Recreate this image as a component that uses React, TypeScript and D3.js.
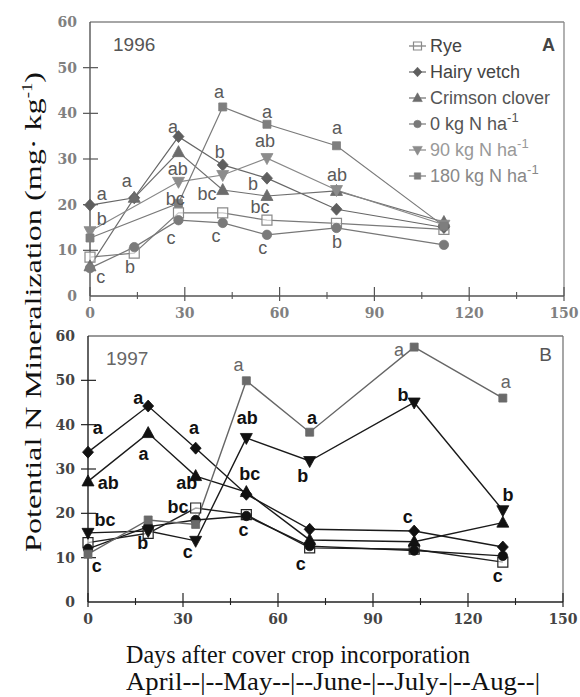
import React from "react";
import * as d3 from "d3";

// ---------- DATA ----------
const seriesKeys = ["rye", "vetch", "clover", "n0", "n90", "n180"];
const legendLabels = ["Rye", "Hairy vetch", "Crimson clover", "0 kg N ha", "90 kg N ha", "180 kg N ha"];
const legendSup = ["", "", "", "-1", "-1", "-1"];

// Panel A, 1996
const daysA = [0, 14, 28, 42, 56, 78, 112];
const ryeA = [8.5, 9.4, 18.2, 18.2, 16.6, 15.9, 14.6];
const vetchA = [19.9, 21.5, 34.9, 28.7, 25.8, 19.0, 15.0];
const cloverA = [6.5, 21.5, 31.5, 23.2, 21.9, 23.0, 16.2];
const n0A = [6.1, 10.7, 16.6, 16.0, 13.4, 14.9, 11.2];
const n90A = [14.2, null, 25.0, 26.5, 30.2, 23.2, 15.6];
const n180A = [12.7, null, 20.3, 41.4, 37.6, 32.9, 15.3];

// Panel B, 1997
const daysB = [0, 19, 34, 50, 70, 103, 131];
const ryeB = [13.4, 15.5, 21.2, 19.7, 12.2, 11.9, 9.0];
const vetchB = [33.8, 44.2, 34.7, 24.3, 16.4, 16.0, 12.4];
const cloverB = [27.2, 38.1, 28.4, 24.8, 14.0, 13.6, 17.9];
const n0B = [12.0, 17.0, 18.5, 19.4, 12.6, 11.6, 10.4];
const n90B = [15.6, 16.0, 13.8, 37.0, 31.8, 45.0, 20.7];
const n180B = [10.8, 18.5, 17.5, 49.9, 38.3, 57.5, 46.0];

// letter annotations: [series, day, value, text]
const lettersA: [string, number, number, string][] = [
  ["vetch", 3.7, 22.3, "a"], ["n90", 3.7, 16.9, "b"], ["n0", 3.4, 4.2, "c"],
  ["vetch", 11.6, 25.2, "a"], ["rye", 12.7, 6.4, "b"],
  ["vetch", 26.3, 37.0, "a"], ["clover", 27.8, 27.8, "ab"], ["n180", 27.0, 21.3, "bc"], ["n0", 25.6, 12.7, "c"],
  ["n180", 40.8, 44.7, "a"], ["vetch", 41.1, 31.7, "b"], ["clover", 37.0, 22.3, "bc"], ["n0", 39.9, 13.1, "c"],
  ["n180", 56.0, 40.3, "a"], ["n90", 55.4, 33.9, "ab"], ["vetch", 51.6, 24.5, "b"], ["clover", 53.8, 19.5, "bc"], ["n0", 54.7, 10.5, "c"],
  ["n180", 78.2, 36.8, "a"], ["n90", 78.2, 26.5, "ab"], ["n0", 78.2, 11.8, "b"],
];
const lettersB: [string, number, number, string][] = [
  ["vetch", 3.1, 39.3, "a"], ["clover", 6.4, 26.8, "ab"], ["n90", 5.4, 18.5, "bc"], ["n0", 2.8, 8.3, "c"],
  ["vetch", 15.9, 46.0, "a"], ["clover", 17.5, 33.4, "a"], ["rye", 17.3, 13.3, "b"],
  ["vetch", 33.5, 39.3, "a"], ["clover", 31.2, 26.8, "ab"], ["rye", 28.4, 21.4, "bc"], ["n90", 31.5, 11.3, "c"],
  ["n180", 47.5, 53.5, "a"], ["n90", 50.3, 41.5, "ab"], ["clover", 51.1, 28.9, "bc"], ["n0", 49.1, 16.2, "c"],
  ["vetch", 70.7, 41.5, "a"], ["n90", 67.8, 28.6, "b"], ["rye", 67.2, 8.6, "c"],
  ["n180", 98.2, 56.8, "a"], ["n90", 99.5, 46.7, "b"], ["vetch", 101.0, 19.2, "c"],
  ["n180", 131.9, 49.6, "a"], ["n90", 132.6, 24.1, "b"], ["rye", 129.4, 5.9, "c"],
];

const yTicks = [0, 10, 20, 30, 40, 50, 60];
const xTicks = [0, 30, 60, 90, 120, 150];
const xMinorTicks = [15, 45, 75, 105, 135];

// ---------- STYLE ----------
const shapes: Record<string, string> = {
  rye: "openSquare", vetch: "diamond", clover: "triUp", n0: "circle", n90: "triDown", n180: "square",
};

function markerPath(shape: string, k = 1): string {
  switch (shape) {
    case "openSquare": return `M${-5 * k},${-5 * k}H${5 * k}V${5 * k}H${-5 * k}Z`;
    case "square": return `M${-4 * k},${-4 * k}H${4 * k}V${4 * k}H${-4 * k}Z`;
    case "diamond": return `M0,${-6 * k}L${5.5 * k},0L0,${6 * k}L${-5.5 * k},0Z`;
    case "triUp": return `M0,${-6.5 * k}L${6 * k},${4.5 * k}L${-6 * k},${4.5 * k}Z`;
    case "triDown": return `M0,${6.5 * k}L${6 * k},${-4.5 * k}L${-6 * k},${-4.5 * k}Z`;
    default: return d3.symbol(d3.symbolCircle, Math.PI * 4.7 * 4.7 * k * k)() as string;
  }
}

const themeA = {
  color: { rye: "#8a8a8a", vetch: "#5e5e5e", clover: "#6c6c6c", n0: "#7a7a7a", n90: "#8c8c8c", n180: "#7e7e7e" } as Record<string, string>,
  line: { rye: "#7a7a7a", vetch: "#666", clover: "#6e6e6e", n0: "#777", n90: "#888", n180: "#7a7a7a" } as Record<string, string>,
  letter: (_s: string) => "#5a5a5a",
  letterWeight: (_s: string) => "normal",
  tickColor: "#808080", axisColor: "#555", frameColor: "#888", lineWidth: 1.2,
};
const themeB = {
  color: { rye: "#222", vetch: "#111", clover: "#111", n0: "#111", n90: "#111", n180: "#6a6a6a" } as Record<string, string>,
  line: { rye: "#222", vetch: "#1a1a1a", clover: "#1a1a1a", n0: "#1a1a1a", n90: "#1a1a1a", n180: "#666" } as Record<string, string>,
  letter: (s: string) => (s === "n180" ? "#666" : "#111"),
  letterWeight: (s: string) => (s === "n180" ? "normal" : "bold"),
  tickColor: "#444", axisColor: "#222", frameColor: "#777", lineWidth: 1.4,
};

type PanelProps = {
  days: number[];
  series: Record<string, (number | null)[]>;
  letters: [string, number, number, string][];
  xr: [number, number];
  yr: [number, number];
  theme: typeof themeA;
  tickFont: number;
};

function Panel({ days, series, letters, xr, yr, theme, tickFont }: PanelProps) {
  const x = d3.scaleLinear().domain([0, 150]).range(xr);
  const y = d3.scaleLinear().domain([0, 60]).range(yr);
  const line = d3.line<[number, number]>().x((d) => x(d[0])).y((d) => y(d[1]));
  const x0 = x(0), x1 = x(150), y0 = y(0), y1 = y(60);
  return (
    <g>
      {/* frame */}
      <line x1={x0} x2={x1} y1={y1} y2={y1} stroke={theme.frameColor} strokeWidth={1.3} />
      <line x1={x1} x2={x1} y1={y1} y2={y0} stroke={theme.frameColor} strokeWidth={1.3} />
      <line x1={x0} x2={x0} y1={y1} y2={y0} stroke={theme.axisColor} strokeWidth={1.4} />
      <line x1={x0} x2={x1} y1={y0} y2={y0} stroke={theme.axisColor} strokeWidth={1.4} />
      {yTicks.map((t) => (
        <g key={"yt" + t}>
          {t > 0 && t < 60 && <line x1={x0 - 7} x2={x0 + 8} y1={y(t)} y2={y(t)} stroke={theme.axisColor} strokeWidth={1.2} />}
          <text x={x0 - 13} y={y(t)} dy="0.36em" textAnchor="end" fontFamily="'DejaVu Serif', serif" fontWeight="bold"
            fontSize={tickFont} fill={theme.tickColor}>{t}</text>
        </g>
      ))}
      {xTicks.map((t) => (
        <g key={"xt" + t}>
          <line x1={x(t)} x2={x(t)} y1={y0 - 9} y2={y0 + 5} stroke={theme.axisColor} strokeWidth={1.2} />
          <text x={x(t)} y={y0 + 22} textAnchor="middle" fontFamily="'DejaVu Serif', serif" fontWeight="bold"
            fontSize={tickFont} fill={theme.tickColor}>{t}</text>
        </g>
      ))}
      {xMinorTicks.map((t) => (
        <line key={"xm" + t} x1={x(t)} x2={x(t)} y1={y0 - 4} y2={y0 + 3} stroke={theme.axisColor} strokeWidth={1.1} />
      ))}
      {/* lines */}
      {seriesKeys.map((k) => {
        const pts: [number, number][] = days
          .map((d, i) => [d, series[k][i]] as [number, number | null])
          .filter((p) => p[1] != null) as [number, number][];
        return <path key={"l" + k} d={line(pts) as string} fill="none" stroke={theme.line[k]} strokeWidth={theme.lineWidth} />;
      })}
      {/* markers */}
      {seriesKeys.map((k) =>
        days.map((d, i) => {
          const v = series[k][i];
          if (v == null) return null;
          const open = shapes[k] === "openSquare";
          return (
            <path key={"m" + k + i} d={markerPath(shapes[k])} transform={`translate(${x(d)},${y(v)})`}
              fill={open ? "#fff" : theme.color[k]} fillOpacity={open ? 0.6 : 1}
              stroke={theme.color[k]} strokeWidth={open ? 1.2 : 0.8} />
          );
        })
      )}
      {/* letters */}
      {letters.map(([s, d, v, t], i) => (
        <text key={"lt" + i} x={x(d)} y={y(v)} dy="0.35em" textAnchor="middle"
          fontFamily="'Liberation Sans', Arial, sans-serif" fontSize={18}
          fontWeight={theme.letterWeight(s)} fill={theme.letter(s)}>{t}</text>
      ))}
    </g>
  );
}

export default function App() {
  const seriesA: Record<string, (number | null)[]> = { rye: ryeA, vetch: vetchA, clover: cloverA, n0: n0A, n90: n90A, n180: n180A };
  const seriesB: Record<string, (number | null)[]> = { rye: ryeB, vetch: vetchB, clover: cloverB, n0: n0B, n90: n90B, n180: n180B };
  const legendText = ["#444", "#444", "#555", "#555", "#999", "#888"];
  return (
    <svg width={580} height={697} viewBox="0 0 580 697" style={{ position: "absolute", left: 0, top: 0, background: "#fff" }}>
      <rect x={0} y={0} width={580} height={697} fill="#fff" />
      <Panel days={daysA} series={seriesA} letters={lettersA} xr={[90, 564]} yr={[296, 22]} theme={themeA} tickFont={14} />
      <Panel days={daysB} series={seriesB} letters={lettersB} xr={[88, 563]} yr={[602, 336]} theme={themeB} tickFont={14} />

      {/* panel titles */}
      <text x={113} y={51} fontFamily="'Liberation Sans', Arial, sans-serif" fontSize={19} fill="#555">1996</text>
      <text x={555} y={51} textAnchor="end" fontFamily="'Liberation Sans', Arial, sans-serif" fontSize={18} fontWeight="bold" fill="#444">A</text>
      <text x={106} y={365} fontFamily="'Liberation Sans', Arial, sans-serif" fontSize={19} fill="#666">1997</text>
      <text x={552} y={361} textAnchor="end" fontFamily="'Liberation Sans', Arial, sans-serif" fontSize={19} fill="#555">B</text>

      {/* legend */}
      {legendLabels.map((lab, i) => {
        const k = seriesKeys[i];
        const yy = 52 + 26 * i - 6;
        const open = shapes[k] === "openSquare";
        return (
          <g key={"lg" + i}>
            <line x1={409} x2={426} y1={yy} y2={yy} stroke={themeA.line[k]} strokeWidth={1.2} />
            <path d={markerPath(shapes[k], 0.8)} transform={`translate(417.5,${yy})`}
              fill={open ? "#fff" : themeA.color[k]} fillOpacity={open ? 0 : 1} stroke={themeA.color[k]} strokeWidth={open ? 1.2 : 0.6} />
            <text x={430} y={52 + 26 * i} fontFamily="'Liberation Sans', Arial, sans-serif" fontSize={18} fill={legendText[i]}>
              {lab}
              {legendSup[i] && <tspan dy={-8} fontSize={13}>{legendSup[i]}</tspan>}
            </text>
          </g>
        );
      })}

      {/* y-axis label */}
      <text transform="translate(41,312) rotate(-90)" textAnchor="middle" fontFamily="'Liberation Serif', 'Times New Roman', serif"
        fontSize={24} fill="#111" textLength={480} lengthAdjust="spacingAndGlyphs">
        Potential N Mineralization (mg· kg<tspan dy={-9} fontSize={14}>-1</tspan><tspan dy={9}>)</tspan>
      </text>

      {/* x-axis label */}
      <text x={126} y={663} fontFamily="'Liberation Serif', 'Times New Roman', serif" fontSize={25} fill="#111"
        textLength={344} lengthAdjust="spacingAndGlyphs">Days after cover crop incorporation</text>
      <text x={126} y={690} fontFamily="'Liberation Serif', 'Times New Roman', serif" fontSize={25} fill="#111"
        textLength={414} lengthAdjust="spacingAndGlyphs">April--|--May--|--June-|--July-|--Aug--|</text>
    </svg>
  );
}
